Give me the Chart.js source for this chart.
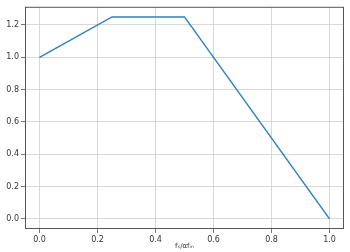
<!DOCTYPE html>
<html>
<head>
<meta charset="utf-8">
<script src="https://cdn.jsdelivr.net/npm/chart.js@4"></script>
<style>
  html, body { margin: 0; padding: 0; background: #fff; }
  #wrap { width: 350px; height: 252px; }
</style>
</head>
<body>
<div id="wrap"><canvas id="chart"></canvas></div>
<script>
// ── Data ──────────────────────────────────────────────
const xValues = [0.0, 0.25, 0.5, 1.0];
const yValues = [1.0, 1.25, 1.25, 0.0];
const xTicks  = [0.0, 0.2, 0.4, 0.6, 0.8, 1.0];
const yTicks  = [0.0, 0.2, 0.4, 0.6, 0.8, 1.0, 1.2];
const xTitle  = 'fₛ/αfₘ';

// ── Frame around plot area ────────────────────────────
const frame = {
    id: 'frame',
    afterDraw(chart) {
        const { ctx, chartArea: a } = chart;
        ctx.save();
        ctx.strokeStyle = '#555';
        ctx.lineWidth = 1;
        ctx.strokeRect(a.left + 0.5, a.top + 0.5, a.right - a.left - 1, a.bottom - a.top - 1);
        ctx.restore();
    }
};

const tickFont = { family: 'DejaVu Sans', size: 8 };

new Chart(document.getElementById('chart'), {
    type: 'scatter',
    data: {
        datasets: [{
            data: xValues.map((x, i) => ({ x, y: yValues[i] })),
            showLine: true,
            borderColor: '#2f82c0',
            borderWidth: 1.5,
            pointRadius: 0,
            tension: 0
        }]
    },
    options: {
        responsive: true,
        maintainAspectRatio: false,
        animation: false,
        layout: { padding: { top: 4, right: 6, left: 0, bottom: 2 } },
        plugins: { legend: { display: false }, tooltip: { enabled: false } },
        scales: {
            x: {
                type: 'linear',
                min: -0.05, max: 1.05,
                afterBuildTicks: s => { s.ticks = xTicks.map(v => ({ value: v })); },
                afterFit: s => { s.height = 21; },
                ticks: { font: tickFont, color: '#333', padding: 2, maxRotation: 0,
                         callback: v => v.toFixed(1) },
                grid: { color: '#cfcfcf', lineWidth: 0.8, tickLength: 4, tickColor: '#555' },
                border: { display: false },
                title: { display: true, text: xTitle, font: { family: 'DejaVu Sans', size: 7 },
                         color: '#333', padding: 0 }
            },
            y: {
                type: 'linear',
                min: -0.0625, max: 1.3125,
                afterBuildTicks: s => { s.ticks = yTicks.map(v => ({ value: v })); },
                afterFit: s => { s.width = 25; },
                ticks: { font: tickFont, color: '#333', padding: 2,
                         callback: v => v.toFixed(1) },
                grid: { color: '#cfcfcf', lineWidth: 0.8, tickLength: 4, tickColor: '#555' },
                border: { display: false }
            }
        }
    },
    plugins: [frame]
});
</script>
</body>
</html>
